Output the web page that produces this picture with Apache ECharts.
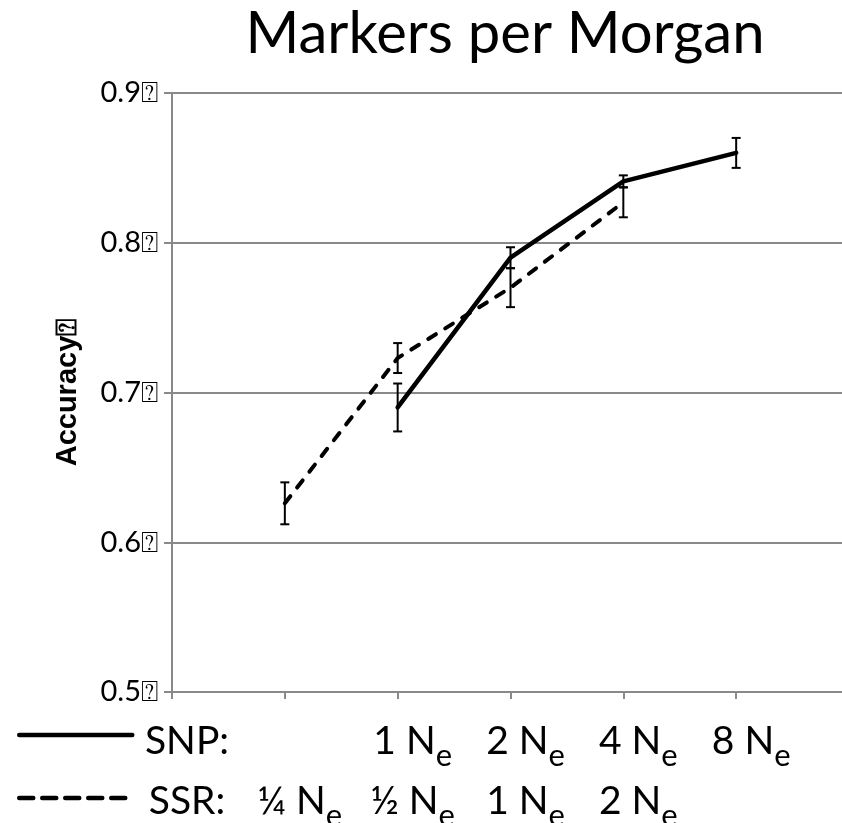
<!DOCTYPE html>
<html>
<head>
<meta charset="utf-8">
<script src="https://cdn.jsdelivr.net/npm/echarts@6/dist/echarts.min.js"></script>
<style>
  html, body { margin: 0; padding: 0; background: #ffffff; }
  #chart { width: 842px; height: 823px; }
</style>
</head>
<body>
<div id="chart"></div>
<script>
// ---- data ----
const categories = ['0', '1', '2', '3', '4', '5', '6'];
const snpLabels = ['SNP:', '', '1 N', '2 N', '4 N', '8 N', ''];
const ssrLabels = ['SSR:', '¼ N', '½ N', '1 N', '2 N', '', ''];
const subscript = 'e';
const snpValues = [null, null, 0.690, 0.790, 0.841, 0.860, null];
const snpErrors = [null, null, 0.016, 0.007, 0.004, 0.010, null];
const ssrValues = [null, 0.626, 0.723, 0.770, 0.827, null, null];
const ssrErrors = [null, 0.014, 0.010, 0.013, 0.010, null, null];
const yTicks = { min: 0.5, max: 0.9, step: 0.1 };
const titleText = 'Markers per Morgan';
const yName = 'Accuracy\u2370';
const tickSuffix = '\u2370';

// ---- helpers ----
function fmtLine(s) {
  if (!s) return '{m| }';
  if (/N$/.test(s)) return '{m|' + s + '}{s|' + subscript + '}';
  return '{m|' + s + '}';
}
function errData(vals, errs) {
  const out = [];
  vals.forEach((v, i) => { if (v != null) out.push([i, v, errs[i]]); });
  return out;
}
function errorBarItem(params, api) {
  const x = api.value(0), v = api.value(1), e = api.value(2);
  const top = api.coord([x, v + e]);
  const bot = api.coord([x, v - e]);
  const hw = 4.5;
  const st = { stroke: '#000', lineWidth: 2 };
  return {
    type: 'group',
    children: [
      { type: 'line', shape: { x1: top[0], y1: top[1], x2: bot[0], y2: bot[1] }, style: st },
      { type: 'line', shape: { x1: top[0] - hw, y1: top[1], x2: top[0] + hw, y2: top[1] }, style: st },
      { type: 'line', shape: { x1: bot[0] - hw, y1: bot[1], x2: bot[0] + hw, y2: bot[1] }, style: st }
    ]
  };
}

const gray = '#898989';
const chart = echarts.init(document.getElementById('chart'), null, { renderer: 'canvas' });
chart.setOption({
  backgroundColor: '#ffffff',
  animation: false,
  title: {
    text: titleText,
    left: 500,
    textAlign: 'center',
    top: 0,
    textStyle: { fontFamily: 'Lato', fontSize: 58, fontWeight: 'normal', color: '#000' }
  },
  legend: {
    orient: 'vertical',
    left: 12,
    top: 725,
    itemWidth: 113,
    itemHeight: 10,
    itemGap: 54,
    data: [
      { name: 'SNP', lineStyle: { width: 4.5, type: 'solid', cap: 'round' } },
      { name: 'SSR', lineStyle: { width: 4.5, type: [14, 9], cap: 'round' } }
    ],
    formatter: () => '',
    textStyle: { fontSize: 1 },
    itemStyle: { opacity: 0, borderWidth: 0 },
    selectedMode: false
  },
  grid: { left: 172, top: 93, bottom: 131, right: -7, containLabel: false, outerBoundsMode: 'none' },
  xAxis: {
    type: 'category',
    data: categories,
    boundaryGap: false,
    axisLine: { show: true, lineStyle: { color: gray, width: 2 } },
    axisTick: { show: true, length: 7, lineStyle: { color: gray, width: 2 } },
    splitLine: { show: false },
    axisLabel: {
      interval: 0,
      margin: 19,
      padding: [0, 0, 0, 30],
      lineHeight: 60,
      formatter: (val, idx) => fmtLine(snpLabels[idx]) + '\n' + fmtLine(ssrLabels[idx]),
      rich: {
        m: { fontFamily: 'Lato', fontSize: 39, color: '#000', lineHeight: 60 },
        s: { fontFamily: 'Lato', fontSize: 31, color: '#000', lineHeight: 60, padding: [29, 0, 0, 0] }
      }
    }
  },
  yAxis: {
    type: 'value',
    min: yTicks.min,
    max: yTicks.max,
    interval: yTicks.step,
    name: yName,
    nameLocation: 'middle',
    nameRotate: 90,
    nameGap: 90,
    nameTextStyle: { fontFamily: 'Liberation Sans', fontWeight: 'bold', fontSize: 29, color: '#000' },
    axisLine: { show: true, lineStyle: { color: gray, width: 2 } },
    axisTick: { show: true, length: 8, lineStyle: { color: gray, width: 2 } },
    splitLine: { show: true, lineStyle: { color: gray, width: 2 } },
    axisLabel: {
      margin: 14,
      fontFamily: 'Lato',
      fontSize: 29,
      color: '#000',
      formatter: v => v.toFixed(1) + tickSuffix
    }
  },
  series: [
    {
      name: 'SNP',
      type: 'line',
      data: snpValues,
      symbol: 'none',
      lineStyle: { color: '#000', width: 4.5, cap: 'round', join: 'round' },
      itemStyle: { color: '#000' },
      z: 3
    },
    {
      name: 'SSR',
      type: 'line',
      data: ssrValues,
      symbol: 'none',
      lineStyle: { color: '#000', width: 4, type: [9, 11], cap: 'round', join: 'round' },
      itemStyle: { color: '#000' },
      z: 3
    },
    {
      name: 'SNP error',
      type: 'custom',
      data: errData(snpValues, snpErrors),
      renderItem: errorBarItem,
      z: 4
    },
    {
      name: 'SSR error',
      type: 'custom',
      data: errData(ssrValues, ssrErrors),
      renderItem: errorBarItem,
      z: 4
    }
  ]
});
</script>
</body>
</html>
